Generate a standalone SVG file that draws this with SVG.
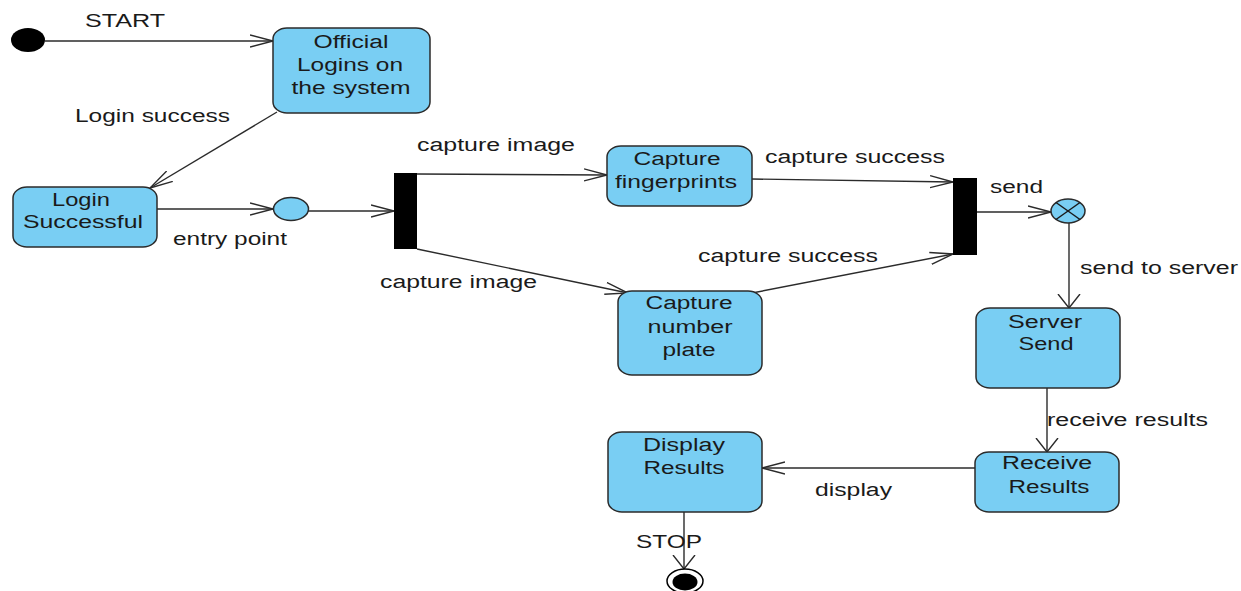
<svg xmlns="http://www.w3.org/2000/svg" width="1241" height="591" viewBox="0 0 1241 591">
<style>
.node{fill:#79CEF3;stroke:#2b2b2b;stroke-width:1.5}
.t{font-family:"Liberation Sans",Arial,sans-serif;font-size:18px;fill:#1a1a1a;text-anchor:middle}
.l{font-family:"Liberation Sans",Arial,sans-serif;font-size:18px;fill:#1a1a1a}
.c{fill:none;stroke:#2b2b2b;stroke-width:1.4}
</style>
<defs>
<marker id="ah" viewBox="0 0 24 14" refX="23" refY="7" markerWidth="24" markerHeight="14" markerUnits="userSpaceOnUse" orient="auto">
<path d="M0,1 L23,7 L0,13" fill="none" stroke="#2b2b2b" stroke-width="1.4"/>
</marker>
<marker id="av" viewBox="0 0 15 24" refX="14" refY="12" markerWidth="15" markerHeight="24" markerUnits="userSpaceOnUse" orient="auto">
<path d="M0,1 L14,12 L0,23" fill="none" stroke="#2b2b2b" stroke-width="1.4"/>
</marker>
</defs>
<g id="connectors">
<line class="c" x1="45" y1="41" x2="273" y2="41" marker-end="url(#ah)"/>
<line class="c" x1="277" y1="112" x2="150" y2="188" marker-end="url(#ah)"/>
<line class="c" x1="157" y1="209" x2="273" y2="209" marker-end="url(#ah)"/>
<line class="c" x1="308" y1="211" x2="394" y2="211" marker-end="url(#ah)"/>
<line class="c" x1="417" y1="174" x2="607" y2="175" marker-end="url(#ah)"/>
<line class="c" x1="417" y1="249" x2="628" y2="293" marker-end="url(#ah)"/>
<line class="c" x1="752" y1="179" x2="953" y2="182" marker-end="url(#ah)"/>
<line class="c" x1="752" y1="293" x2="953" y2="254" marker-end="url(#ah)"/>
<line class="c" x1="977" y1="212" x2="1051" y2="212" marker-end="url(#ah)"/>
<line class="c" x1="1069" y1="223" x2="1069" y2="308" marker-end="url(#av)"/>
<line class="c" x1="1047" y1="388" x2="1047" y2="452" marker-end="url(#av)"/>
<line class="c" x1="975" y1="468" x2="762" y2="468" marker-end="url(#ah)"/>
<line class="c" x1="684" y1="512" x2="684" y2="569" marker-end="url(#av)"/>
<text class="l" x="85" y="27" textLength="80" lengthAdjust="spacingAndGlyphs">START</text>
<text class="l" x="75" y="122" textLength="155" lengthAdjust="spacingAndGlyphs">Login success</text>
<text class="l" x="173" y="245" textLength="114" lengthAdjust="spacingAndGlyphs">entry point</text>
<text class="l" x="417" y="151" textLength="158" lengthAdjust="spacingAndGlyphs">capture image</text>
<text class="l" x="380" y="288" textLength="157" lengthAdjust="spacingAndGlyphs">capture image</text>
<text class="l" x="765" y="163" textLength="180" lengthAdjust="spacingAndGlyphs">capture success</text>
<text class="l" x="698" y="262" textLength="180" lengthAdjust="spacingAndGlyphs">capture success</text>
<text class="l" x="990" y="193" textLength="53" lengthAdjust="spacingAndGlyphs">send</text>
<text class="l" x="1080" y="274" textLength="158" lengthAdjust="spacingAndGlyphs">send to server</text>
<text class="l" x="1047" y="426" textLength="161" lengthAdjust="spacingAndGlyphs">receive results</text>
<text class="l" x="815" y="496" textLength="77" lengthAdjust="spacingAndGlyphs">display</text>
<text class="l" x="636" y="548" textLength="66" lengthAdjust="spacingAndGlyphs">STOP</text>
</g>
<g id="start">
<ellipse cx="28" cy="40" rx="17" ry="12" fill="#000"/>
</g>
<g id="official-logins">
<rect class="node" x="273" y="28" width="157" height="85" rx="14" ry="11"/>
<text class="t" x="351" y="48" textLength="75" lengthAdjust="spacingAndGlyphs">Official</text>
<text class="t" x="350" y="71" textLength="106" lengthAdjust="spacingAndGlyphs">Logins on</text>
<text class="t" x="351" y="94" textLength="119" lengthAdjust="spacingAndGlyphs">the system</text>
</g>
<g id="login-successful">
<rect class="node" x="13" y="187" width="144" height="60" rx="14" ry="11"/>
<text class="t" x="81" y="206" textLength="58" lengthAdjust="spacingAndGlyphs">Login</text>
<text class="t" x="83" y="228" textLength="120" lengthAdjust="spacingAndGlyphs">Successful</text>
</g>
<g id="entry-point">
<ellipse class="node" cx="291" cy="209" rx="17.5" ry="11.5"/>
</g>
<g id="fork">
<rect x="394" y="173" width="23" height="76" fill="#000"/>
</g>
<g id="capture-fingerprints">
<rect class="node" x="607" y="146" width="145" height="60" rx="14" ry="11"/>
<text class="t" x="677" y="165" textLength="87" lengthAdjust="spacingAndGlyphs">Capture</text>
<text class="t" x="676" y="188" textLength="122" lengthAdjust="spacingAndGlyphs">fingerprints</text>
</g>
<g id="capture-number-plate">
<rect class="node" x="618" y="291" width="144" height="84" rx="14" ry="11"/>
<text class="t" x="689" y="309" textLength="87" lengthAdjust="spacingAndGlyphs">Capture</text>
<text class="t" x="690" y="333" textLength="85" lengthAdjust="spacingAndGlyphs">number</text>
<text class="t" x="689" y="356" textLength="53" lengthAdjust="spacingAndGlyphs">plate</text>
</g>
<g id="join">
<rect x="953" y="178" width="24" height="77" fill="#000"/>
</g>
<g id="flow-final">
<ellipse class="node" cx="1068" cy="211" rx="17" ry="12"/>
<line x1="1056" y1="202.5" x2="1080" y2="219.5" stroke="#1a1a1a" stroke-width="1.5"/>
<line x1="1080" y1="202.5" x2="1056" y2="219.5" stroke="#1a1a1a" stroke-width="1.5"/>
</g>
<g id="server-send">
<rect class="node" x="976" y="308" width="144" height="80" rx="14" ry="11"/>
<text class="t" x="1045" y="328" textLength="74" lengthAdjust="spacingAndGlyphs">Server</text>
<text class="t" x="1046" y="350" textLength="55" lengthAdjust="spacingAndGlyphs">Send</text>
</g>
<g id="receive-results">
<rect class="node" x="975" y="452" width="144" height="60" rx="14" ry="11"/>
<text class="t" x="1047" y="469" textLength="90" lengthAdjust="spacingAndGlyphs">Receive</text>
<text class="t" x="1049" y="493" textLength="81" lengthAdjust="spacingAndGlyphs">Results</text>
</g>
<g id="display-results">
<rect class="node" x="608" y="432" width="154" height="80" rx="14" ry="11"/>
<text class="t" x="684" y="451" textLength="82" lengthAdjust="spacingAndGlyphs">Display</text>
<text class="t" x="684" y="474" textLength="81" lengthAdjust="spacingAndGlyphs">Results</text>
</g>
<g id="end">
<ellipse cx="685" cy="581" rx="18" ry="12" fill="#fff" stroke="#000" stroke-width="1.5"/>
<ellipse cx="685" cy="582" rx="12.5" ry="8.5" fill="#000"/>
</g>
</svg>
